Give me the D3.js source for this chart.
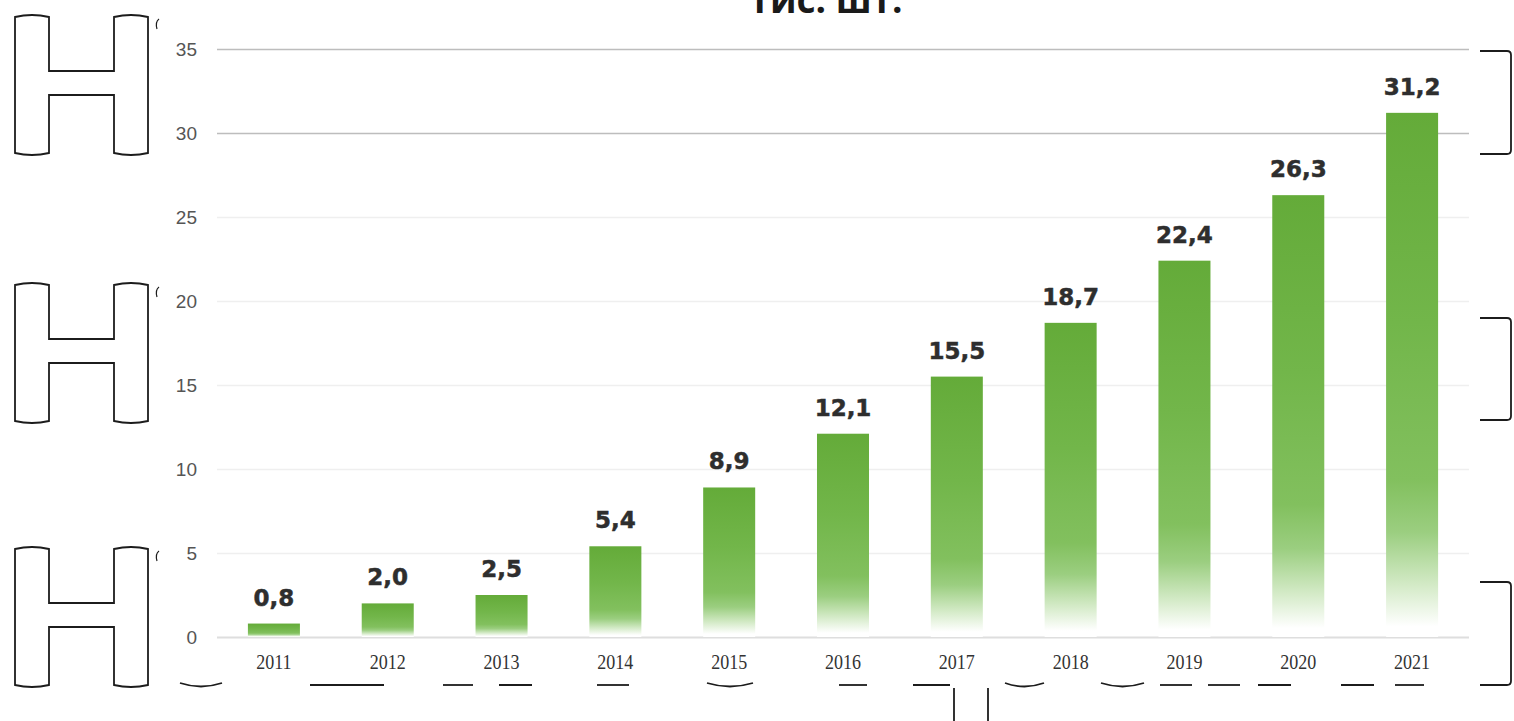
<!DOCTYPE html>
<html>
<head>
<meta charset="utf-8">
<script src="https://cdn.jsdelivr.net/npm/d3@7/dist/d3.min.js"></script>
<style>
  html, body { margin: 0; padding: 0; background: #ffffff; }
  svg { display: block; }
</style>
</head>
<body>
<svg id="chart" width="1514" height="721"></svg>
<script>
// ---- data ----
const years  = ["2011","2012","2013","2014","2015","2016","2017","2018","2019","2020","2021"];
const values = [0.8, 2.0, 2.5, 5.4, 8.9, 12.1, 15.5, 18.7, 22.4, 26.3, 31.2];
const yTicks = [0, 5, 10, 15, 20, 25, 30, 35];
const title  = "тис. шт.";

// ---- layout ----
const svg = d3.select("#chart");

const x = d3.scaleBand()
  .domain(years)
  .range([217, 1469])
  .paddingInner(0.543)
  .paddingOuter(0.2715);

const y = d3.scaleLinear()
  .domain([0, 35])
  .range([637, 49]);

// gradient for bars
const defs = svg.append("defs");
const grad = defs.append("linearGradient")
  .attr("id", "barGrad")
  .attr("x1", 0).attr("y1", 0).attr("x2", 0).attr("y2", 1);
[
  [0.00, "#64ab39"],
  [0.40, "#72b64a"],
  [0.70, "#82c05e"],
  [0.80, "#9bce80"],
  [0.90, "#d3eac6"],
  [0.98, "#ffffff"]
].forEach(([o, c]) => grad.append("stop").attr("offset", o).attr("stop-color", c));

// title
svg.append("text")
  .attr("x", 826).attr("y", 13)
  .attr("text-anchor", "middle")
  .attr("font-family", "'Open Sans', 'DejaVu Sans', sans-serif")
  .attr("font-weight", 700)
  .attr("font-size", 37)
  .attr("fill", "#1a1a1a")
  .text(title);

// gridlines
const grid = svg.append("g")
  .attr("transform", "translate(217,0)")
  .call(d3.axisRight(y).tickValues(yTicks).tickSize(1469 - 217).tickFormat(""));
grid.select(".domain").remove();
grid.selectAll(".tick line")
  .attr("stroke", d => d >= 30 ? "#bdbdbd" : (d === 0 ? "#dedede" : "#efefef"))
  .attr("stroke-width", d => d === 0 ? 2 : 1.3);

// y axis labels
const yAxis = svg.append("g")
  .attr("transform", "translate(205,0)")
  .call(d3.axisLeft(y).tickValues(yTicks).tickSize(0).tickPadding(8));
yAxis.select(".domain").remove();
yAxis.selectAll(".tick text")
  .attr("font-family", "'Liberation Sans', Arial, sans-serif")
  .attr("font-size", 19)
  .attr("fill", "#555");

// bars
svg.append("g").selectAll("rect")
  .data(values)
  .join("rect")
  .attr("x", (d, i) => x(years[i]))
  .attr("y", d => y(d))
  .attr("width", x.bandwidth())
  .attr("height", d => y(0) - y(d))
  .attr("fill", "url(#barGrad)");

// value labels
svg.append("g").selectAll("text")
  .data(values)
  .join("text")
  .attr("x", (d, i) => x(years[i]) + x.bandwidth() / 2)
  .attr("y", d => y(d) - 18)
  .attr("text-anchor", "middle")
  .attr("font-family", "'DejaVu Sans', sans-serif")
  .attr("font-weight", 700)
  .attr("font-size", 23)
  .attr("fill", "#2e2e2e")
  .attr("stroke", "#2e2e2e")
  .attr("stroke-width", 0.5)
  .text(d => d.toFixed(1).replace(".", ","));

// x axis labels
const xAxis = svg.append("g")
  .attr("transform", "translate(0,637)")
  .call(d3.axisBottom(x).tickSize(0).tickPadding(0));
xAxis.select(".domain").remove();
xAxis.selectAll(".tick text")
  .attr("font-family", "'Liberation Serif', 'Times New Roman', serif")
  .attr("font-size", 20)
  .attr("fill", "#333")
  .attr("dy", 0)
  .attr("y", 32)
  .attr("transform", "scale(0.9,1)")
  .attr("x", 0)
  .attr("text-anchor", "middle");

// ---- decorative outlines present in the reference picture ----
const hTops = [15, 283, 547];
const brackets = [[51, 154], [318, 420], [582, 685]];
const dashes = [[180, 222, 1], [310, 384, 0], [443, 473, 0], [499, 532, 0], [597, 629, 0],
                [707, 753, 1], [839, 867, 0], [913, 950, 0], [1005, 1044, 1], [1101, 1144, 1],
                [1160, 1192, 0], [1208, 1240, 0], [1258, 1291, 0], [1341, 1374, 0], [1395, 1424, 0]];
const vbars = [954, 988];

const deco = svg.append("g").attr("fill", "none").attr("stroke", "#1c1c1c").attr("stroke-width", 1.8);

function hPath(t) {
  const a = 15, b = 49, c = 114, e = 148, m1 = t + 56, m2 = t + 80, bt = t + 140;
  return `M${a},${t + 2} Q${(a + b) / 2},${t - 2} ${b},${t + 2} L${b},${m1} L${c},${m1} L${c},${t + 2}` +
         ` Q${(c + e) / 2},${t - 2} ${e},${t + 2} L${e},${bt - 2} Q${(c + e) / 2},${bt + 2} ${c},${bt - 2}` +
         ` L${c},${m2} L${b},${m2} L${b},${bt - 2} Q${(a + b) / 2},${bt + 2} ${a},${bt - 2} Z`;
}
deco.selectAll("path.h").data(hTops).join("path").attr("class", "h").attr("d", hPath);
deco.selectAll("path.hc").data(hTops).join("path").attr("class", "hc")
  .attr("stroke-width", 1.2)
  .attr("d", t => `M159,${t + 4} Q155,${t + 7} 157,${t + 14}`);

deco.selectAll("path.br").data(brackets).join("path").attr("class", "br")
  .attr("d", ([t, b]) => `M1480,${t} L1507,${t} Q1511,${t} 1511,${t + 4} L1511,${b - 4} Q1511,${b} 1507,${b} L1480,${b}`);

deco.selectAll("path.ds").data(dashes).join("path").attr("class", "ds")
  .attr("d", ([a, b, cv]) => cv ? `M${a},683 Q${(a + b) / 2},690 ${b},683` : `M${a},685 L${b},685`);

deco.selectAll("path.vb").data(vbars).join("path").attr("class", "vb")
  .attr("d", v => `M${v},688 L${v},721`);
</script>
</body>
</html>
